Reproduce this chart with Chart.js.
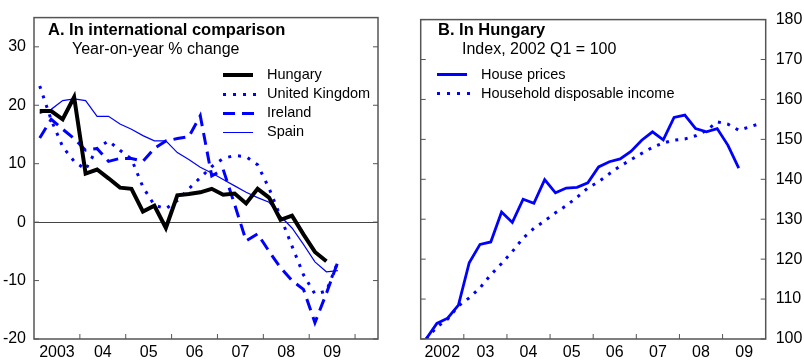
<!DOCTYPE html>
<html lang="en">
<head>
    <meta charset="UTF-8">
    <title>House prices</title>
    <script src="https://cdn.jsdelivr.net/npm/chart.js"></script>
    <style>
        body {
            margin: 0;
            width: 804px;
            height: 360px;
            position: relative;
            overflow: hidden;
            background: #fff;
            font-family: 'Liberation Sans', Arial, sans-serif;
            color: #000;
        }

        canvas {
            position: absolute;
            top: 0;
        }

        #chart-a { left: 0; }
        #chart-b { left: 400px; }

        .title {
            position: absolute;
            font-weight: bold;
            font-size: 16.5px;
            line-height: 16.5px;
            white-space: nowrap;
        }

        .subtitle {
            position: absolute;
            font-size: 16px;
            line-height: 16px;
            white-space: nowrap;
        }

        .legend {
            position: absolute;
            font-size: 14.5px;
            line-height: 19px;
        }

        .legend .row {
            position: relative;
            height: 19px;
            width: 200px;
        }

        .legend .key {
            position: absolute;
            left: 0;
            width: 30px;
        }

        .legend .txt {
            position: absolute;
            left: 44px;
            top: 0;
            white-space: nowrap;
        }

        /* legend line samples */
        .solid-black { top: 8px; height: 4px; background: #000; }
        .dotted-blue { top: 8.5px; height: 3px; background: repeating-linear-gradient(to right, #0000ff 0 3px, transparent 3px 10px); width: 33px !important; }
        .dashed-blue { top: 8.5px; height: 3px; background: repeating-linear-gradient(to right, #0000ff 0 12px, transparent 12px 19px); width: 31px !important; }
        .thin-blue { top: 9.5px; height: 1.2px; background: #0000ff; }
        .solid-blue { top: 8.5px; height: 2.8px; background: #0000ff; }
    </style>
</head>
<body>
    <canvas id="chart-a" width="400" height="360"></canvas>
    <canvas id="chart-b" width="404" height="360"></canvas>

    <div class="title" style="left:48px; top:20.5px;">A. In international comparison</div>
    <div class="subtitle" style="left:72px; top:41px;">Year-on-year % change</div>
    <div class="legend" style="left:223px; top:65px;">
        <div class="row"><span class="key solid-black"></span><span class="txt">Hungary</span></div>
        <div class="row"><span class="key dotted-blue"></span><span class="txt">United Kingdom</span></div>
        <div class="row"><span class="key dashed-blue"></span><span class="txt">Ireland</span></div>
        <div class="row"><span class="key thin-blue"></span><span class="txt">Spain</span></div>
    </div>

    <div class="title" style="left:438px; top:20.5px;">B. In Hungary</div>
    <div class="subtitle" style="left:462px; top:41px;">Index, 2002 Q1 = 100</div>
    <div class="legend" style="left:437px; top:64.5px;">
        <div class="row"><span class="key solid-blue"></span><span class="txt">House prices</span></div>
        <div class="row"><span class="key dotted-blue"></span><span class="txt">Household disposable income</span></div>
    </div>

    <script>
        const blue = '#0000ff';

        // Panel A: year-on-year % change, quarterly from 2003 Q1
        const quartersA = makeQuarters(2003, 27);
        const hungary = [19.0, 19.0, 17.6, 21.4, 8.3, 9.0, 7.5, 5.9, 5.7, 1.8, 2.8, -1.0, 4.6, 4.8, 5.1, 5.7,
            4.7, 4.9, 3.2, 5.7, 4.2, 0.4, 1.1, -2.1, -5.1, -6.7];
        const unitedKingdom = [23.3, 17.5, 12.9, 10.4, 9.0, 12.6, 13.9, 12.3, 10.8, 6.0, 2.9, 2.3, 3.7, 5.7, 7.6, 9.5,
            10.9, 11.4, 11.2, 9.8, 5.8, 0.9, -4.1, -9.0, -12.3, -11.8, -6.8];
        const ireland = [14.4, 17.6, 15.9, 14.3, 12.3, 12.6, 10.4, 10.9, 10.9, 10.4, 12.6, 13.9, 14.3, 14.6, 18.2, 7.9,
            9.0, 3.0, -3.2, -2.0, -5.0, -7.8, -10.0, -11.5, -17.2, -12.2, -6.8];
        const spain = [18.6, 19.3, 20.8, 21.1, 20.8, 18.1, 18.1, 16.8, 15.9, 14.8, 13.9, 13.9, 11.9, 10.7, 9.4, 8.4,
            7.3, 6.2, 5.1, 4.2, 3.4, 1.0, -1.0, -3.8, -6.8, -8.5, -8.3];
        const yearLabelsA = ['2003', '04', '05', '06', '07', '08', '09'];
        const yTicksA = [-20, -10, 0, 10, 20, 30];

        // Panel B: index, 2002 Q1 = 100
        const quartersB = makeQuarters(2002, 32);
        const housePrices = [100, 103.9, 105.2, 108.5, 119.1, 123.7, 124.3, 131.8, 129.2, 135.0, 134.0, 139.9, 136.6, 137.8,
            138.0, 139.1, 143.1, 144.4, 145.1, 147.0, 149.8, 151.9, 149.9, 155.5, 156.1, 152.7, 151.9, 152.7, 148.5, 142.8];
        const disposableIncome = [100, 103.0, 105.0, 108.3, 110.3, 112.8, 116.1, 118.9, 121.9, 125.3, 127.7, 129.6, 131.6,
            133.4, 135.5, 137.8, 139.4, 141.4, 143.3, 144.9, 146.5, 148.0, 149.1, 149.8, 150.1, 150.9, 152.2, 154.4,
            153.8, 152.3, 153.1, 154.0];
        const yearLabelsB = ['2002', '03', '04', '05', '06', '07', '08', '09'];
        const yTicksB = [100, 110, 120, 130, 140, 150, 160, 170, 180];

        // quarter labels like '2003Q1'
        function makeQuarters(firstYear, count) {
            const out = [];
            for (let i = 0; i < count; i++) {
                out.push((firstYear + Math.floor(i / 4)) + 'Q' + (i % 4 + 1));
            }
            return out;
        }

        // a quarter sits in the middle of its slot on a year axis
        function quarterPos(q) {
            const [year, quarter] = q.split('Q').map(Number);
            return year + (quarter - 0.5) / 4;
        }

        function toPoints(quarters, values) {
            return values.map((v, i) => ({ x: quarterPos(quarters[i]), y: v }));
        }

        // frame with small inward tick marks, as in the original
        const frameTicks = {
            id: 'frameTicks',
            afterDatasetsDraw(chart) {
                const { ctx, chartArea: a, scales } = chart;
                ctx.save();
                ctx.strokeStyle = '#555';
                ctx.lineWidth = 1.5;
                ctx.strokeRect(a.left, a.top, a.right - a.left, a.bottom - a.top);
                ctx.lineWidth = 1;
                ctx.beginPath();
                const x = scales.x;
                for (let yr = Math.floor(x.min) + 1; yr < x.max; yr++) {
                    const px = x.getPixelForValue(yr);
                    ctx.moveTo(px, a.bottom);
                    ctx.lineTo(px, a.bottom - 5);
                }
                scales.y.ticks.forEach(t => {
                    const py = scales.y.getPixelForValue(t.value);
                    ctx.moveTo(a.left, py);
                    ctx.lineTo(a.left + 5, py);
                    ctx.moveTo(a.right, py);
                    ctx.lineTo(a.right - 5, py);
                });
                ctx.stroke();
                ctx.restore();
            }
        };

        Chart.defaults.font.family = "'Liberation Sans', Arial, sans-serif";
        Chart.defaults.font.size = 16;
        Chart.defaults.color = '#000';

        function lineSet(data, color, width, dash) {
            return {
                data: data,
                borderColor: color,
                borderWidth: width,
                borderDash: dash || [],
                borderCapStyle: 'butt',
                pointRadius: 0,
                tension: 0,
                fill: false
            };
        }

        function xAxis(firstYear, lastYear, labels, height) {
            return {
                type: 'linear',
                min: firstYear,
                max: lastYear,
                afterBuildTicks: s => { s.ticks = labels.map((l, i) => ({ value: firstYear + i + 0.5 })); },
                ticks: { callback: (v, i) => labels[i], padding: 4, maxRotation: 0, autoSkip: false },
                grid: { display: false, drawTicks: false },
                border: { display: false },
                afterFit: s => { s.height = height; }
            };
        }

        new Chart(document.getElementById('chart-a'), {
            type: 'line',
            data: {
                datasets: [
                    lineSet(toPoints(quartersA, hungary), '#000', 4),
                    lineSet(toPoints(quartersA, spain), blue, 1.2),
                    lineSet(toPoints(quartersA, ireland), blue, 3, [12, 7]),
                    lineSet(toPoints(quartersA, unitedKingdom), blue, 3, [3, 7])
                ]
            },
            options: {
                responsive: false,
                animation: false,
                layout: { padding: { top: 8, right: 22, left: 0, bottom: 0 } },
                plugins: { legend: { display: false }, tooltip: { enabled: false } },
                scales: {
                    x: xAxis(2003, 2010.5, yearLabelsA, 21),
                    y: {
                        min: -20,
                        max: 35,
                        afterBuildTicks: s => { s.ticks = yTicksA.map(v => ({ value: v })); },
                        ticks: { padding: 8 },
                        grid: {
                            drawTicks: false,
                            lineWidth: 1,
                            color: c => (c.tick && c.tick.value === 0 ? '#444' : 'rgba(0,0,0,0)')
                        },
                        border: { display: false },
                        afterFit: s => { s.width = 34; }
                    }
                }
            },
            plugins: [frameTicks]
        });

        new Chart(document.getElementById('chart-b'), {
            type: 'line',
            data: {
                datasets: [
                    lineSet(toPoints(quartersB, housePrices), blue, 2.8),
                    lineSet(toPoints(quartersB, disposableIncome), blue, 3, [3, 6.5])
                ]
            },
            options: {
                responsive: false,
                animation: false,
                layout: { padding: { top: 8, right: 0, left: 20.7, bottom: 0 } },
                plugins: { legend: { display: false }, tooltip: { enabled: false } },
                scales: {
                    x: xAxis(2002, 2010, yearLabelsB, 21),
                    y: {
                        position: 'right',
                        min: 100,
                        max: 180,
                        afterBuildTicks: s => { s.ticks = yTicksB.map(v => ({ value: v })); },
                        ticks: { padding: 10 },
                        grid: { display: false, drawTicks: false },
                        border: { display: false },
                        afterFit: s => { s.width = 38.3; }
                    }
                }
            },
            plugins: [frameTicks]
        });
    </script>
</body>
</html>
